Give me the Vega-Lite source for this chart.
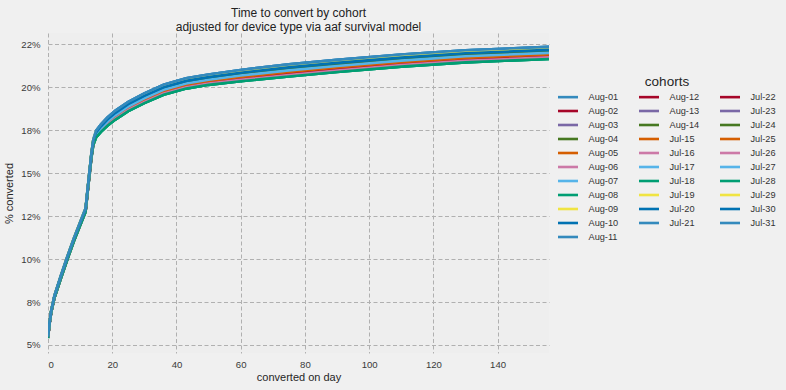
{
"$schema": "https://vega.github.io/schema/vega-lite/v6.json",
"width": 501, "height": 320,
"autosize": {"type": "none"},
"padding": {"left": 48, "top": 33, "right": 237, "bottom": 37},
"background": "#f0f0f0",
"title": {"text": ["Time to convert by cohort", "adjusted for device type via aaf survival model"], "frame": "group", "anchor": "middle", "font": "Liberation Sans", "fontSize": 12, "fontWeight": "normal", "color": "#222222", "lineHeight": 13.5, "offset": -0.5},
"data": {"values": [
{"c":"Aug-01","d":0,"v":5.498},{"c":"Aug-01","d":0.5,"v":6.352},{"c":"Aug-01","d":1,"v":7.01},{"c":"Aug-01","d":2,"v":7.868},{"c":"Aug-01","d":4,"v":9.03},{"c":"Aug-01","d":6,"v":10.138},{"c":"Aug-01","d":8,"v":11.192},{"c":"Aug-01","d":10,"v":12.15},{"c":"Aug-01","d":11.7,"v":12.958},{"c":"Aug-01","d":12.6,"v":14.57},{"c":"Aug-01","d":13.5,"v":16.14},{"c":"Aug-01","d":14.1,"v":16.96},{"c":"Aug-01","d":15,"v":17.472},{"c":"Aug-01","d":16.5,"v":17.84},{"c":"Aug-01","d":18.5,"v":18.24},{"c":"Aug-01","d":21,"v":18.64},{"c":"Aug-01","d":25,"v":19.152},{"c":"Aug-01","d":30,"v":19.64},{"c":"Aug-01","d":36,"v":20.142},{"c":"Aug-01","d":43,"v":20.52},{"c":"Aug-01","d":50,"v":20.74},{"c":"Aug-01","d":60,"v":21.008},{"c":"Aug-01","d":75,"v":21.332},{"c":"Aug-01","d":90,"v":21.592},{"c":"Aug-01","d":110,"v":21.902},{"c":"Aug-01","d":130,"v":22.152},{"c":"Aug-01","d":156,"v":22.352},
{"c":"Aug-02","d":0,"v":5.426},{"c":"Aug-02","d":0.5,"v":6.274},{"c":"Aug-02","d":1,"v":6.92},{"c":"Aug-02","d":2,"v":7.766},{"c":"Aug-02","d":4,"v":8.91},{"c":"Aug-02","d":6,"v":10.006},{"c":"Aug-02","d":8,"v":11.054},{"c":"Aug-02","d":10,"v":12},{"c":"Aug-02","d":11.7,"v":12.796},{"c":"Aug-02","d":12.6,"v":14.39},{"c":"Aug-02","d":13.5,"v":15.93},{"c":"Aug-02","d":14.1,"v":16.72},{"c":"Aug-02","d":15,"v":17.184},{"c":"Aug-02","d":16.5,"v":17.51},{"c":"Aug-02","d":18.5,"v":17.88},{"c":"Aug-02","d":21,"v":18.25},{"c":"Aug-02","d":25,"v":18.744},{"c":"Aug-02","d":30,"v":19.22},{"c":"Aug-02","d":36,"v":19.704},{"c":"Aug-02","d":43,"v":20.07},{"c":"Aug-02","d":50,"v":20.29},{"c":"Aug-02","d":60,"v":20.516},{"c":"Aug-02","d":75,"v":20.804},{"c":"Aug-02","d":90,"v":21.064},{"c":"Aug-02","d":110,"v":21.374},{"c":"Aug-02","d":130,"v":21.624},{"c":"Aug-02","d":156,"v":21.824},
{"c":"Aug-03","d":0,"v":5.45},{"c":"Aug-03","d":0.5,"v":6.3},{"c":"Aug-03","d":1,"v":6.95},{"c":"Aug-03","d":2,"v":7.8},{"c":"Aug-03","d":4,"v":8.95},{"c":"Aug-03","d":6,"v":10.05},{"c":"Aug-03","d":8,"v":11.1},{"c":"Aug-03","d":10,"v":12.05},{"c":"Aug-03","d":11.7,"v":12.85},{"c":"Aug-03","d":12.6,"v":14.45},{"c":"Aug-03","d":13.5,"v":16},{"c":"Aug-03","d":14.1,"v":16.8},{"c":"Aug-03","d":15,"v":17.28},{"c":"Aug-03","d":16.5,"v":17.62},{"c":"Aug-03","d":18.5,"v":18},{"c":"Aug-03","d":21,"v":18.38},{"c":"Aug-03","d":25,"v":18.88},{"c":"Aug-03","d":30,"v":19.36},{"c":"Aug-03","d":36,"v":19.85},{"c":"Aug-03","d":43,"v":20.22},{"c":"Aug-03","d":50,"v":20.44},{"c":"Aug-03","d":60,"v":20.68},{"c":"Aug-03","d":75,"v":20.98},{"c":"Aug-03","d":90,"v":21.24},{"c":"Aug-03","d":110,"v":21.55},{"c":"Aug-03","d":130,"v":21.8},{"c":"Aug-03","d":156,"v":22},
{"c":"Aug-04","d":0,"v":5.462},{"c":"Aug-04","d":0.5,"v":6.313},{"c":"Aug-04","d":1,"v":6.965},{"c":"Aug-04","d":2,"v":7.817},{"c":"Aug-04","d":4,"v":8.97},{"c":"Aug-04","d":6,"v":10.072},{"c":"Aug-04","d":8,"v":11.123},{"c":"Aug-04","d":10,"v":12.075},{"c":"Aug-04","d":11.7,"v":12.877},{"c":"Aug-04","d":12.6,"v":14.48},{"c":"Aug-04","d":13.5,"v":16.035},{"c":"Aug-04","d":14.1,"v":16.84},{"c":"Aug-04","d":15,"v":17.328},{"c":"Aug-04","d":16.5,"v":17.675},{"c":"Aug-04","d":18.5,"v":18.06},{"c":"Aug-04","d":21,"v":18.445},{"c":"Aug-04","d":25,"v":18.948},{"c":"Aug-04","d":30,"v":19.43},{"c":"Aug-04","d":36,"v":19.923},{"c":"Aug-04","d":43,"v":20.295},{"c":"Aug-04","d":50,"v":20.515},{"c":"Aug-04","d":60,"v":20.762},{"c":"Aug-04","d":75,"v":21.068},{"c":"Aug-04","d":90,"v":21.328},{"c":"Aug-04","d":110,"v":21.638},{"c":"Aug-04","d":130,"v":21.888},{"c":"Aug-04","d":156,"v":22.088},
{"c":"Aug-05","d":0,"v":5.438},{"c":"Aug-05","d":0.5,"v":6.287},{"c":"Aug-05","d":1,"v":6.935},{"c":"Aug-05","d":2,"v":7.783},{"c":"Aug-05","d":4,"v":8.93},{"c":"Aug-05","d":6,"v":10.028},{"c":"Aug-05","d":8,"v":11.077},{"c":"Aug-05","d":10,"v":12.025},{"c":"Aug-05","d":11.7,"v":12.823},{"c":"Aug-05","d":12.6,"v":14.42},{"c":"Aug-05","d":13.5,"v":15.965},{"c":"Aug-05","d":14.1,"v":16.76},{"c":"Aug-05","d":15,"v":17.232},{"c":"Aug-05","d":16.5,"v":17.565},{"c":"Aug-05","d":18.5,"v":17.94},{"c":"Aug-05","d":21,"v":18.315},{"c":"Aug-05","d":25,"v":18.812},{"c":"Aug-05","d":30,"v":19.29},{"c":"Aug-05","d":36,"v":19.777},{"c":"Aug-05","d":43,"v":20.145},{"c":"Aug-05","d":50,"v":20.365},{"c":"Aug-05","d":60,"v":20.598},{"c":"Aug-05","d":75,"v":20.892},{"c":"Aug-05","d":90,"v":21.152},{"c":"Aug-05","d":110,"v":21.462},{"c":"Aug-05","d":130,"v":21.712},{"c":"Aug-05","d":156,"v":21.912},
{"c":"Aug-06","d":0,"v":5.414},{"c":"Aug-06","d":0.5,"v":6.261},{"c":"Aug-06","d":1,"v":6.905},{"c":"Aug-06","d":2,"v":7.749},{"c":"Aug-06","d":4,"v":8.89},{"c":"Aug-06","d":6,"v":9.984},{"c":"Aug-06","d":8,"v":11.031},{"c":"Aug-06","d":10,"v":11.975},{"c":"Aug-06","d":11.7,"v":12.769},{"c":"Aug-06","d":12.6,"v":14.36},{"c":"Aug-06","d":13.5,"v":15.895},{"c":"Aug-06","d":14.1,"v":16.68},{"c":"Aug-06","d":15,"v":17.136},{"c":"Aug-06","d":16.5,"v":17.455},{"c":"Aug-06","d":18.5,"v":17.82},{"c":"Aug-06","d":21,"v":18.185},{"c":"Aug-06","d":25,"v":18.676},{"c":"Aug-06","d":30,"v":19.15},{"c":"Aug-06","d":36,"v":19.631},{"c":"Aug-06","d":43,"v":19.995},{"c":"Aug-06","d":50,"v":20.215},{"c":"Aug-06","d":60,"v":20.434},{"c":"Aug-06","d":75,"v":20.716},{"c":"Aug-06","d":90,"v":20.976},{"c":"Aug-06","d":110,"v":21.286},{"c":"Aug-06","d":130,"v":21.536},{"c":"Aug-06","d":156,"v":21.736},
{"c":"Aug-07","d":0,"v":5.45},{"c":"Aug-07","d":0.5,"v":6.3},{"c":"Aug-07","d":1,"v":6.95},{"c":"Aug-07","d":2,"v":7.8},{"c":"Aug-07","d":4,"v":8.95},{"c":"Aug-07","d":6,"v":10.05},{"c":"Aug-07","d":8,"v":11.1},{"c":"Aug-07","d":10,"v":12.05},{"c":"Aug-07","d":11.7,"v":12.85},{"c":"Aug-07","d":12.6,"v":14.45},{"c":"Aug-07","d":13.5,"v":16},{"c":"Aug-07","d":14.1,"v":16.8},{"c":"Aug-07","d":15,"v":17.28},{"c":"Aug-07","d":16.5,"v":17.62},{"c":"Aug-07","d":18.5,"v":18},{"c":"Aug-07","d":21,"v":18.38},{"c":"Aug-07","d":25,"v":18.88},{"c":"Aug-07","d":30,"v":19.36},{"c":"Aug-07","d":36,"v":19.85},{"c":"Aug-07","d":43,"v":20.22},{"c":"Aug-07","d":50,"v":20.44},{"c":"Aug-07","d":60,"v":20.68},{"c":"Aug-07","d":75,"v":20.98},{"c":"Aug-07","d":90,"v":21.24},{"c":"Aug-07","d":110,"v":21.55},{"c":"Aug-07","d":130,"v":21.8},{"c":"Aug-07","d":156,"v":22},
{"c":"Aug-08","d":0,"v":5.402},{"c":"Aug-08","d":0.5,"v":6.248},{"c":"Aug-08","d":1,"v":6.89},{"c":"Aug-08","d":2,"v":7.732},{"c":"Aug-08","d":4,"v":8.87},{"c":"Aug-08","d":6,"v":9.962},{"c":"Aug-08","d":8,"v":11.008},{"c":"Aug-08","d":10,"v":11.95},{"c":"Aug-08","d":11.7,"v":12.742},{"c":"Aug-08","d":12.6,"v":14.33},{"c":"Aug-08","d":13.5,"v":15.86},{"c":"Aug-08","d":14.1,"v":16.64},{"c":"Aug-08","d":15,"v":17.088},{"c":"Aug-08","d":16.5,"v":17.4},{"c":"Aug-08","d":18.5,"v":17.76},{"c":"Aug-08","d":21,"v":18.12},{"c":"Aug-08","d":25,"v":18.608},{"c":"Aug-08","d":30,"v":19.08},{"c":"Aug-08","d":36,"v":19.558},{"c":"Aug-08","d":43,"v":19.92},{"c":"Aug-08","d":50,"v":20.14},{"c":"Aug-08","d":60,"v":20.352},{"c":"Aug-08","d":75,"v":20.628},{"c":"Aug-08","d":90,"v":20.888},{"c":"Aug-08","d":110,"v":21.198},{"c":"Aug-08","d":130,"v":21.448},{"c":"Aug-08","d":156,"v":21.648},
{"c":"Aug-09","d":0,"v":5.486},{"c":"Aug-09","d":0.5,"v":6.339},{"c":"Aug-09","d":1,"v":6.995},{"c":"Aug-09","d":2,"v":7.851},{"c":"Aug-09","d":4,"v":9.01},{"c":"Aug-09","d":6,"v":10.116},{"c":"Aug-09","d":8,"v":11.169},{"c":"Aug-09","d":10,"v":12.125},{"c":"Aug-09","d":11.7,"v":12.931},{"c":"Aug-09","d":12.6,"v":14.54},{"c":"Aug-09","d":13.5,"v":16.105},{"c":"Aug-09","d":14.1,"v":16.92},{"c":"Aug-09","d":15,"v":17.424},{"c":"Aug-09","d":16.5,"v":17.785},{"c":"Aug-09","d":18.5,"v":18.18},{"c":"Aug-09","d":21,"v":18.575},{"c":"Aug-09","d":25,"v":19.084},{"c":"Aug-09","d":30,"v":19.57},{"c":"Aug-09","d":36,"v":20.069},{"c":"Aug-09","d":43,"v":20.445},{"c":"Aug-09","d":50,"v":20.665},{"c":"Aug-09","d":60,"v":20.926},{"c":"Aug-09","d":75,"v":21.244},{"c":"Aug-09","d":90,"v":21.504},{"c":"Aug-09","d":110,"v":21.814},{"c":"Aug-09","d":130,"v":22.064},{"c":"Aug-09","d":156,"v":22.264},
{"c":"Aug-10","d":0,"v":5.474},{"c":"Aug-10","d":0.5,"v":6.326},{"c":"Aug-10","d":1,"v":6.98},{"c":"Aug-10","d":2,"v":7.834},{"c":"Aug-10","d":4,"v":8.99},{"c":"Aug-10","d":6,"v":10.094},{"c":"Aug-10","d":8,"v":11.146},{"c":"Aug-10","d":10,"v":12.1},{"c":"Aug-10","d":11.7,"v":12.904},{"c":"Aug-10","d":12.6,"v":14.51},{"c":"Aug-10","d":13.5,"v":16.07},{"c":"Aug-10","d":14.1,"v":16.88},{"c":"Aug-10","d":15,"v":17.376},{"c":"Aug-10","d":16.5,"v":17.73},{"c":"Aug-10","d":18.5,"v":18.12},{"c":"Aug-10","d":21,"v":18.51},{"c":"Aug-10","d":25,"v":19.016},{"c":"Aug-10","d":30,"v":19.5},{"c":"Aug-10","d":36,"v":19.996},{"c":"Aug-10","d":43,"v":20.37},{"c":"Aug-10","d":50,"v":20.59},{"c":"Aug-10","d":60,"v":20.844},{"c":"Aug-10","d":75,"v":21.156},{"c":"Aug-10","d":90,"v":21.416},{"c":"Aug-10","d":110,"v":21.726},{"c":"Aug-10","d":130,"v":21.976},{"c":"Aug-10","d":156,"v":22.176},
{"c":"Aug-11","d":0,"v":5.498},{"c":"Aug-11","d":0.5,"v":6.352},{"c":"Aug-11","d":1,"v":7.01},{"c":"Aug-11","d":2,"v":7.868},{"c":"Aug-11","d":4,"v":9.03},{"c":"Aug-11","d":6,"v":10.138},{"c":"Aug-11","d":8,"v":11.192},{"c":"Aug-11","d":10,"v":12.15},{"c":"Aug-11","d":11.7,"v":12.958},{"c":"Aug-11","d":12.6,"v":14.57},{"c":"Aug-11","d":13.5,"v":16.14},{"c":"Aug-11","d":14.1,"v":16.96},{"c":"Aug-11","d":15,"v":17.472},{"c":"Aug-11","d":16.5,"v":17.84},{"c":"Aug-11","d":18.5,"v":18.24},{"c":"Aug-11","d":21,"v":18.64},{"c":"Aug-11","d":25,"v":19.152},{"c":"Aug-11","d":30,"v":19.64},{"c":"Aug-11","d":36,"v":20.142},{"c":"Aug-11","d":43,"v":20.52},{"c":"Aug-11","d":50,"v":20.74},{"c":"Aug-11","d":60,"v":21.008},{"c":"Aug-11","d":75,"v":21.332},{"c":"Aug-11","d":90,"v":21.592},{"c":"Aug-11","d":110,"v":21.902},{"c":"Aug-11","d":130,"v":22.152},{"c":"Aug-11","d":156,"v":22.352},
{"c":"Aug-12","d":0,"v":5.426},{"c":"Aug-12","d":0.5,"v":6.274},{"c":"Aug-12","d":1,"v":6.92},{"c":"Aug-12","d":2,"v":7.766},{"c":"Aug-12","d":4,"v":8.91},{"c":"Aug-12","d":6,"v":10.006},{"c":"Aug-12","d":8,"v":11.054},{"c":"Aug-12","d":10,"v":12},{"c":"Aug-12","d":11.7,"v":12.796},{"c":"Aug-12","d":12.6,"v":14.39},{"c":"Aug-12","d":13.5,"v":15.93},{"c":"Aug-12","d":14.1,"v":16.72},{"c":"Aug-12","d":15,"v":17.184},{"c":"Aug-12","d":16.5,"v":17.51},{"c":"Aug-12","d":18.5,"v":17.88},{"c":"Aug-12","d":21,"v":18.25},{"c":"Aug-12","d":25,"v":18.744},{"c":"Aug-12","d":30,"v":19.22},{"c":"Aug-12","d":36,"v":19.704},{"c":"Aug-12","d":43,"v":20.07},{"c":"Aug-12","d":50,"v":20.29},{"c":"Aug-12","d":60,"v":20.516},{"c":"Aug-12","d":75,"v":20.804},{"c":"Aug-12","d":90,"v":21.064},{"c":"Aug-12","d":110,"v":21.374},{"c":"Aug-12","d":130,"v":21.624},{"c":"Aug-12","d":156,"v":21.824},
{"c":"Aug-13","d":0,"v":5.45},{"c":"Aug-13","d":0.5,"v":6.3},{"c":"Aug-13","d":1,"v":6.95},{"c":"Aug-13","d":2,"v":7.8},{"c":"Aug-13","d":4,"v":8.95},{"c":"Aug-13","d":6,"v":10.05},{"c":"Aug-13","d":8,"v":11.1},{"c":"Aug-13","d":10,"v":12.05},{"c":"Aug-13","d":11.7,"v":12.85},{"c":"Aug-13","d":12.6,"v":14.45},{"c":"Aug-13","d":13.5,"v":16},{"c":"Aug-13","d":14.1,"v":16.8},{"c":"Aug-13","d":15,"v":17.28},{"c":"Aug-13","d":16.5,"v":17.62},{"c":"Aug-13","d":18.5,"v":18},{"c":"Aug-13","d":21,"v":18.38},{"c":"Aug-13","d":25,"v":18.88},{"c":"Aug-13","d":30,"v":19.36},{"c":"Aug-13","d":36,"v":19.85},{"c":"Aug-13","d":43,"v":20.22},{"c":"Aug-13","d":50,"v":20.44},{"c":"Aug-13","d":60,"v":20.68},{"c":"Aug-13","d":75,"v":20.98},{"c":"Aug-13","d":90,"v":21.24},{"c":"Aug-13","d":110,"v":21.55},{"c":"Aug-13","d":130,"v":21.8},{"c":"Aug-13","d":156,"v":22},
{"c":"Aug-14","d":0,"v":5.462},{"c":"Aug-14","d":0.5,"v":6.313},{"c":"Aug-14","d":1,"v":6.965},{"c":"Aug-14","d":2,"v":7.817},{"c":"Aug-14","d":4,"v":8.97},{"c":"Aug-14","d":6,"v":10.072},{"c":"Aug-14","d":8,"v":11.123},{"c":"Aug-14","d":10,"v":12.075},{"c":"Aug-14","d":11.7,"v":12.877},{"c":"Aug-14","d":12.6,"v":14.48},{"c":"Aug-14","d":13.5,"v":16.035},{"c":"Aug-14","d":14.1,"v":16.84},{"c":"Aug-14","d":15,"v":17.328},{"c":"Aug-14","d":16.5,"v":17.675},{"c":"Aug-14","d":18.5,"v":18.06},{"c":"Aug-14","d":21,"v":18.445},{"c":"Aug-14","d":25,"v":18.948},{"c":"Aug-14","d":30,"v":19.43},{"c":"Aug-14","d":36,"v":19.923},{"c":"Aug-14","d":43,"v":20.295},{"c":"Aug-14","d":50,"v":20.515},{"c":"Aug-14","d":60,"v":20.762},{"c":"Aug-14","d":75,"v":21.068},{"c":"Aug-14","d":90,"v":21.328},{"c":"Aug-14","d":110,"v":21.638},{"c":"Aug-14","d":130,"v":21.888},{"c":"Aug-14","d":156,"v":22.088},
{"c":"Jul-15","d":0,"v":5.438},{"c":"Jul-15","d":0.5,"v":6.287},{"c":"Jul-15","d":1,"v":6.935},{"c":"Jul-15","d":2,"v":7.783},{"c":"Jul-15","d":4,"v":8.93},{"c":"Jul-15","d":6,"v":10.028},{"c":"Jul-15","d":8,"v":11.077},{"c":"Jul-15","d":10,"v":12.025},{"c":"Jul-15","d":11.7,"v":12.823},{"c":"Jul-15","d":12.6,"v":14.42},{"c":"Jul-15","d":13.5,"v":15.965},{"c":"Jul-15","d":14.1,"v":16.76},{"c":"Jul-15","d":15,"v":17.232},{"c":"Jul-15","d":16.5,"v":17.565},{"c":"Jul-15","d":18.5,"v":17.94},{"c":"Jul-15","d":21,"v":18.315},{"c":"Jul-15","d":25,"v":18.812},{"c":"Jul-15","d":30,"v":19.29},{"c":"Jul-15","d":36,"v":19.777},{"c":"Jul-15","d":43,"v":20.145},{"c":"Jul-15","d":50,"v":20.365},{"c":"Jul-15","d":60,"v":20.598},{"c":"Jul-15","d":75,"v":20.892},{"c":"Jul-15","d":90,"v":21.152},{"c":"Jul-15","d":110,"v":21.462},{"c":"Jul-15","d":130,"v":21.712},{"c":"Jul-15","d":156,"v":21.912},
{"c":"Jul-16","d":0,"v":5.414},{"c":"Jul-16","d":0.5,"v":6.261},{"c":"Jul-16","d":1,"v":6.905},{"c":"Jul-16","d":2,"v":7.749},{"c":"Jul-16","d":4,"v":8.89},{"c":"Jul-16","d":6,"v":9.984},{"c":"Jul-16","d":8,"v":11.031},{"c":"Jul-16","d":10,"v":11.975},{"c":"Jul-16","d":11.7,"v":12.769},{"c":"Jul-16","d":12.6,"v":14.36},{"c":"Jul-16","d":13.5,"v":15.895},{"c":"Jul-16","d":14.1,"v":16.68},{"c":"Jul-16","d":15,"v":17.136},{"c":"Jul-16","d":16.5,"v":17.455},{"c":"Jul-16","d":18.5,"v":17.82},{"c":"Jul-16","d":21,"v":18.185},{"c":"Jul-16","d":25,"v":18.676},{"c":"Jul-16","d":30,"v":19.15},{"c":"Jul-16","d":36,"v":19.631},{"c":"Jul-16","d":43,"v":19.995},{"c":"Jul-16","d":50,"v":20.215},{"c":"Jul-16","d":60,"v":20.434},{"c":"Jul-16","d":75,"v":20.716},{"c":"Jul-16","d":90,"v":20.976},{"c":"Jul-16","d":110,"v":21.286},{"c":"Jul-16","d":130,"v":21.536},{"c":"Jul-16","d":156,"v":21.736},
{"c":"Jul-17","d":0,"v":5.45},{"c":"Jul-17","d":0.5,"v":6.3},{"c":"Jul-17","d":1,"v":6.95},{"c":"Jul-17","d":2,"v":7.8},{"c":"Jul-17","d":4,"v":8.95},{"c":"Jul-17","d":6,"v":10.05},{"c":"Jul-17","d":8,"v":11.1},{"c":"Jul-17","d":10,"v":12.05},{"c":"Jul-17","d":11.7,"v":12.85},{"c":"Jul-17","d":12.6,"v":14.45},{"c":"Jul-17","d":13.5,"v":16},{"c":"Jul-17","d":14.1,"v":16.8},{"c":"Jul-17","d":15,"v":17.28},{"c":"Jul-17","d":16.5,"v":17.62},{"c":"Jul-17","d":18.5,"v":18},{"c":"Jul-17","d":21,"v":18.38},{"c":"Jul-17","d":25,"v":18.88},{"c":"Jul-17","d":30,"v":19.36},{"c":"Jul-17","d":36,"v":19.85},{"c":"Jul-17","d":43,"v":20.22},{"c":"Jul-17","d":50,"v":20.44},{"c":"Jul-17","d":60,"v":20.68},{"c":"Jul-17","d":75,"v":20.98},{"c":"Jul-17","d":90,"v":21.24},{"c":"Jul-17","d":110,"v":21.55},{"c":"Jul-17","d":130,"v":21.8},{"c":"Jul-17","d":156,"v":22},
{"c":"Jul-18","d":0,"v":5.402},{"c":"Jul-18","d":0.5,"v":6.248},{"c":"Jul-18","d":1,"v":6.89},{"c":"Jul-18","d":2,"v":7.732},{"c":"Jul-18","d":4,"v":8.87},{"c":"Jul-18","d":6,"v":9.962},{"c":"Jul-18","d":8,"v":11.008},{"c":"Jul-18","d":10,"v":11.95},{"c":"Jul-18","d":11.7,"v":12.742},{"c":"Jul-18","d":12.6,"v":14.33},{"c":"Jul-18","d":13.5,"v":15.86},{"c":"Jul-18","d":14.1,"v":16.64},{"c":"Jul-18","d":15,"v":17.088},{"c":"Jul-18","d":16.5,"v":17.4},{"c":"Jul-18","d":18.5,"v":17.76},{"c":"Jul-18","d":21,"v":18.12},{"c":"Jul-18","d":25,"v":18.608},{"c":"Jul-18","d":30,"v":19.08},{"c":"Jul-18","d":36,"v":19.558},{"c":"Jul-18","d":43,"v":19.92},{"c":"Jul-18","d":50,"v":20.14},{"c":"Jul-18","d":60,"v":20.352},{"c":"Jul-18","d":75,"v":20.628},{"c":"Jul-18","d":90,"v":20.888},{"c":"Jul-18","d":110,"v":21.198},{"c":"Jul-18","d":130,"v":21.448},{"c":"Jul-18","d":156,"v":21.648},
{"c":"Jul-19","d":0,"v":5.486},{"c":"Jul-19","d":0.5,"v":6.339},{"c":"Jul-19","d":1,"v":6.995},{"c":"Jul-19","d":2,"v":7.851},{"c":"Jul-19","d":4,"v":9.01},{"c":"Jul-19","d":6,"v":10.116},{"c":"Jul-19","d":8,"v":11.169},{"c":"Jul-19","d":10,"v":12.125},{"c":"Jul-19","d":11.7,"v":12.931},{"c":"Jul-19","d":12.6,"v":14.54},{"c":"Jul-19","d":13.5,"v":16.105},{"c":"Jul-19","d":14.1,"v":16.92},{"c":"Jul-19","d":15,"v":17.424},{"c":"Jul-19","d":16.5,"v":17.785},{"c":"Jul-19","d":18.5,"v":18.18},{"c":"Jul-19","d":21,"v":18.575},{"c":"Jul-19","d":25,"v":19.084},{"c":"Jul-19","d":30,"v":19.57},{"c":"Jul-19","d":36,"v":20.069},{"c":"Jul-19","d":43,"v":20.445},{"c":"Jul-19","d":50,"v":20.665},{"c":"Jul-19","d":60,"v":20.926},{"c":"Jul-19","d":75,"v":21.244},{"c":"Jul-19","d":90,"v":21.504},{"c":"Jul-19","d":110,"v":21.814},{"c":"Jul-19","d":130,"v":22.064},{"c":"Jul-19","d":156,"v":22.264},
{"c":"Jul-20","d":0,"v":5.474},{"c":"Jul-20","d":0.5,"v":6.326},{"c":"Jul-20","d":1,"v":6.98},{"c":"Jul-20","d":2,"v":7.834},{"c":"Jul-20","d":4,"v":8.99},{"c":"Jul-20","d":6,"v":10.094},{"c":"Jul-20","d":8,"v":11.146},{"c":"Jul-20","d":10,"v":12.1},{"c":"Jul-20","d":11.7,"v":12.904},{"c":"Jul-20","d":12.6,"v":14.51},{"c":"Jul-20","d":13.5,"v":16.07},{"c":"Jul-20","d":14.1,"v":16.88},{"c":"Jul-20","d":15,"v":17.376},{"c":"Jul-20","d":16.5,"v":17.73},{"c":"Jul-20","d":18.5,"v":18.12},{"c":"Jul-20","d":21,"v":18.51},{"c":"Jul-20","d":25,"v":19.016},{"c":"Jul-20","d":30,"v":19.5},{"c":"Jul-20","d":36,"v":19.996},{"c":"Jul-20","d":43,"v":20.37},{"c":"Jul-20","d":50,"v":20.59},{"c":"Jul-20","d":60,"v":20.844},{"c":"Jul-20","d":75,"v":21.156},{"c":"Jul-20","d":90,"v":21.416},{"c":"Jul-20","d":110,"v":21.726},{"c":"Jul-20","d":130,"v":21.976},{"c":"Jul-20","d":156,"v":22.176},
{"c":"Jul-21","d":0,"v":5.462},{"c":"Jul-21","d":0.5,"v":6.313},{"c":"Jul-21","d":1,"v":6.965},{"c":"Jul-21","d":2,"v":7.817},{"c":"Jul-21","d":4,"v":8.97},{"c":"Jul-21","d":6,"v":10.072},{"c":"Jul-21","d":8,"v":11.123},{"c":"Jul-21","d":10,"v":12.075},{"c":"Jul-21","d":11.7,"v":12.877},{"c":"Jul-21","d":12.6,"v":14.48},{"c":"Jul-21","d":13.5,"v":16.035},{"c":"Jul-21","d":14.1,"v":16.84},{"c":"Jul-21","d":15,"v":17.328},{"c":"Jul-21","d":16.5,"v":17.675},{"c":"Jul-21","d":18.5,"v":18.06},{"c":"Jul-21","d":21,"v":18.445},{"c":"Jul-21","d":25,"v":18.948},{"c":"Jul-21","d":30,"v":19.43},{"c":"Jul-21","d":36,"v":19.923},{"c":"Jul-21","d":43,"v":20.295},{"c":"Jul-21","d":50,"v":20.515},{"c":"Jul-21","d":60,"v":20.762},{"c":"Jul-21","d":75,"v":21.068},{"c":"Jul-21","d":90,"v":21.328},{"c":"Jul-21","d":110,"v":21.638},{"c":"Jul-21","d":130,"v":21.888},{"c":"Jul-21","d":156,"v":22.088},
{"c":"Jul-22","d":0,"v":5.426},{"c":"Jul-22","d":0.5,"v":6.274},{"c":"Jul-22","d":1,"v":6.92},{"c":"Jul-22","d":2,"v":7.766},{"c":"Jul-22","d":4,"v":8.91},{"c":"Jul-22","d":6,"v":10.006},{"c":"Jul-22","d":8,"v":11.054},{"c":"Jul-22","d":10,"v":12},{"c":"Jul-22","d":11.7,"v":12.796},{"c":"Jul-22","d":12.6,"v":14.39},{"c":"Jul-22","d":13.5,"v":15.93},{"c":"Jul-22","d":14.1,"v":16.72},{"c":"Jul-22","d":15,"v":17.184},{"c":"Jul-22","d":16.5,"v":17.51},{"c":"Jul-22","d":18.5,"v":17.88},{"c":"Jul-22","d":21,"v":18.25},{"c":"Jul-22","d":25,"v":18.744},{"c":"Jul-22","d":30,"v":19.22},{"c":"Jul-22","d":36,"v":19.704},{"c":"Jul-22","d":43,"v":20.07},{"c":"Jul-22","d":50,"v":20.29},{"c":"Jul-22","d":60,"v":20.516},{"c":"Jul-22","d":75,"v":20.804},{"c":"Jul-22","d":90,"v":21.064},{"c":"Jul-22","d":110,"v":21.374},{"c":"Jul-22","d":130,"v":21.624},{"c":"Jul-22","d":156,"v":21.824},
{"c":"Jul-23","d":0,"v":5.45},{"c":"Jul-23","d":0.5,"v":6.3},{"c":"Jul-23","d":1,"v":6.95},{"c":"Jul-23","d":2,"v":7.8},{"c":"Jul-23","d":4,"v":8.95},{"c":"Jul-23","d":6,"v":10.05},{"c":"Jul-23","d":8,"v":11.1},{"c":"Jul-23","d":10,"v":12.05},{"c":"Jul-23","d":11.7,"v":12.85},{"c":"Jul-23","d":12.6,"v":14.45},{"c":"Jul-23","d":13.5,"v":16},{"c":"Jul-23","d":14.1,"v":16.8},{"c":"Jul-23","d":15,"v":17.28},{"c":"Jul-23","d":16.5,"v":17.62},{"c":"Jul-23","d":18.5,"v":18},{"c":"Jul-23","d":21,"v":18.38},{"c":"Jul-23","d":25,"v":18.88},{"c":"Jul-23","d":30,"v":19.36},{"c":"Jul-23","d":36,"v":19.85},{"c":"Jul-23","d":43,"v":20.22},{"c":"Jul-23","d":50,"v":20.44},{"c":"Jul-23","d":60,"v":20.68},{"c":"Jul-23","d":75,"v":20.98},{"c":"Jul-23","d":90,"v":21.24},{"c":"Jul-23","d":110,"v":21.55},{"c":"Jul-23","d":130,"v":21.8},{"c":"Jul-23","d":156,"v":22},
{"c":"Jul-24","d":0,"v":5.462},{"c":"Jul-24","d":0.5,"v":6.313},{"c":"Jul-24","d":1,"v":6.965},{"c":"Jul-24","d":2,"v":7.817},{"c":"Jul-24","d":4,"v":8.97},{"c":"Jul-24","d":6,"v":10.072},{"c":"Jul-24","d":8,"v":11.123},{"c":"Jul-24","d":10,"v":12.075},{"c":"Jul-24","d":11.7,"v":12.877},{"c":"Jul-24","d":12.6,"v":14.48},{"c":"Jul-24","d":13.5,"v":16.035},{"c":"Jul-24","d":14.1,"v":16.84},{"c":"Jul-24","d":15,"v":17.328},{"c":"Jul-24","d":16.5,"v":17.675},{"c":"Jul-24","d":18.5,"v":18.06},{"c":"Jul-24","d":21,"v":18.445},{"c":"Jul-24","d":25,"v":18.948},{"c":"Jul-24","d":30,"v":19.43},{"c":"Jul-24","d":36,"v":19.923},{"c":"Jul-24","d":43,"v":20.295},{"c":"Jul-24","d":50,"v":20.515},{"c":"Jul-24","d":60,"v":20.762},{"c":"Jul-24","d":75,"v":21.068},{"c":"Jul-24","d":90,"v":21.328},{"c":"Jul-24","d":110,"v":21.638},{"c":"Jul-24","d":130,"v":21.888},{"c":"Jul-24","d":156,"v":22.088},
{"c":"Jul-25","d":0,"v":5.438},{"c":"Jul-25","d":0.5,"v":6.287},{"c":"Jul-25","d":1,"v":6.935},{"c":"Jul-25","d":2,"v":7.783},{"c":"Jul-25","d":4,"v":8.93},{"c":"Jul-25","d":6,"v":10.028},{"c":"Jul-25","d":8,"v":11.077},{"c":"Jul-25","d":10,"v":12.025},{"c":"Jul-25","d":11.7,"v":12.823},{"c":"Jul-25","d":12.6,"v":14.42},{"c":"Jul-25","d":13.5,"v":15.965},{"c":"Jul-25","d":14.1,"v":16.76},{"c":"Jul-25","d":15,"v":17.232},{"c":"Jul-25","d":16.5,"v":17.565},{"c":"Jul-25","d":18.5,"v":17.94},{"c":"Jul-25","d":21,"v":18.315},{"c":"Jul-25","d":25,"v":18.812},{"c":"Jul-25","d":30,"v":19.29},{"c":"Jul-25","d":36,"v":19.777},{"c":"Jul-25","d":43,"v":20.145},{"c":"Jul-25","d":50,"v":20.365},{"c":"Jul-25","d":60,"v":20.598},{"c":"Jul-25","d":75,"v":20.892},{"c":"Jul-25","d":90,"v":21.152},{"c":"Jul-25","d":110,"v":21.462},{"c":"Jul-25","d":130,"v":21.712},{"c":"Jul-25","d":156,"v":21.912},
{"c":"Jul-26","d":0,"v":5.414},{"c":"Jul-26","d":0.5,"v":6.261},{"c":"Jul-26","d":1,"v":6.905},{"c":"Jul-26","d":2,"v":7.749},{"c":"Jul-26","d":4,"v":8.89},{"c":"Jul-26","d":6,"v":9.984},{"c":"Jul-26","d":8,"v":11.031},{"c":"Jul-26","d":10,"v":11.975},{"c":"Jul-26","d":11.7,"v":12.769},{"c":"Jul-26","d":12.6,"v":14.36},{"c":"Jul-26","d":13.5,"v":15.895},{"c":"Jul-26","d":14.1,"v":16.68},{"c":"Jul-26","d":15,"v":17.136},{"c":"Jul-26","d":16.5,"v":17.455},{"c":"Jul-26","d":18.5,"v":17.82},{"c":"Jul-26","d":21,"v":18.185},{"c":"Jul-26","d":25,"v":18.676},{"c":"Jul-26","d":30,"v":19.15},{"c":"Jul-26","d":36,"v":19.631},{"c":"Jul-26","d":43,"v":19.995},{"c":"Jul-26","d":50,"v":20.215},{"c":"Jul-26","d":60,"v":20.434},{"c":"Jul-26","d":75,"v":20.716},{"c":"Jul-26","d":90,"v":20.976},{"c":"Jul-26","d":110,"v":21.286},{"c":"Jul-26","d":130,"v":21.536},{"c":"Jul-26","d":156,"v":21.736},
{"c":"Jul-27","d":0,"v":5.45},{"c":"Jul-27","d":0.5,"v":6.3},{"c":"Jul-27","d":1,"v":6.95},{"c":"Jul-27","d":2,"v":7.8},{"c":"Jul-27","d":4,"v":8.95},{"c":"Jul-27","d":6,"v":10.05},{"c":"Jul-27","d":8,"v":11.1},{"c":"Jul-27","d":10,"v":12.05},{"c":"Jul-27","d":11.7,"v":12.85},{"c":"Jul-27","d":12.6,"v":14.45},{"c":"Jul-27","d":13.5,"v":16},{"c":"Jul-27","d":14.1,"v":16.8},{"c":"Jul-27","d":15,"v":17.28},{"c":"Jul-27","d":16.5,"v":17.62},{"c":"Jul-27","d":18.5,"v":18},{"c":"Jul-27","d":21,"v":18.38},{"c":"Jul-27","d":25,"v":18.88},{"c":"Jul-27","d":30,"v":19.36},{"c":"Jul-27","d":36,"v":19.85},{"c":"Jul-27","d":43,"v":20.22},{"c":"Jul-27","d":50,"v":20.44},{"c":"Jul-27","d":60,"v":20.68},{"c":"Jul-27","d":75,"v":20.98},{"c":"Jul-27","d":90,"v":21.24},{"c":"Jul-27","d":110,"v":21.55},{"c":"Jul-27","d":130,"v":21.8},{"c":"Jul-27","d":156,"v":22},
{"c":"Jul-28","d":0,"v":5.402},{"c":"Jul-28","d":0.5,"v":6.248},{"c":"Jul-28","d":1,"v":6.89},{"c":"Jul-28","d":2,"v":7.732},{"c":"Jul-28","d":4,"v":8.87},{"c":"Jul-28","d":6,"v":9.962},{"c":"Jul-28","d":8,"v":11.008},{"c":"Jul-28","d":10,"v":11.95},{"c":"Jul-28","d":11.7,"v":12.742},{"c":"Jul-28","d":12.6,"v":14.33},{"c":"Jul-28","d":13.5,"v":15.86},{"c":"Jul-28","d":14.1,"v":16.64},{"c":"Jul-28","d":15,"v":17.088},{"c":"Jul-28","d":16.5,"v":17.4},{"c":"Jul-28","d":18.5,"v":17.76},{"c":"Jul-28","d":21,"v":18.12},{"c":"Jul-28","d":25,"v":18.608},{"c":"Jul-28","d":30,"v":19.08},{"c":"Jul-28","d":36,"v":19.558},{"c":"Jul-28","d":43,"v":19.92},{"c":"Jul-28","d":50,"v":20.14},{"c":"Jul-28","d":60,"v":20.352},{"c":"Jul-28","d":75,"v":20.628},{"c":"Jul-28","d":90,"v":20.888},{"c":"Jul-28","d":110,"v":21.198},{"c":"Jul-28","d":130,"v":21.448},{"c":"Jul-28","d":156,"v":21.648},
{"c":"Jul-29","d":0,"v":5.486},{"c":"Jul-29","d":0.5,"v":6.339},{"c":"Jul-29","d":1,"v":6.995},{"c":"Jul-29","d":2,"v":7.851},{"c":"Jul-29","d":4,"v":9.01},{"c":"Jul-29","d":6,"v":10.116},{"c":"Jul-29","d":8,"v":11.169},{"c":"Jul-29","d":10,"v":12.125},{"c":"Jul-29","d":11.7,"v":12.931},{"c":"Jul-29","d":12.6,"v":14.54},{"c":"Jul-29","d":13.5,"v":16.105},{"c":"Jul-29","d":14.1,"v":16.92},{"c":"Jul-29","d":15,"v":17.424},{"c":"Jul-29","d":16.5,"v":17.785},{"c":"Jul-29","d":18.5,"v":18.18},{"c":"Jul-29","d":21,"v":18.575},{"c":"Jul-29","d":25,"v":19.084},{"c":"Jul-29","d":30,"v":19.57},{"c":"Jul-29","d":36,"v":20.069},{"c":"Jul-29","d":43,"v":20.445},{"c":"Jul-29","d":50,"v":20.665},{"c":"Jul-29","d":60,"v":20.926},{"c":"Jul-29","d":75,"v":21.244},{"c":"Jul-29","d":90,"v":21.504},{"c":"Jul-29","d":110,"v":21.814},{"c":"Jul-29","d":130,"v":22.064},{"c":"Jul-29","d":156,"v":22.264},
{"c":"Jul-30","d":0,"v":5.474},{"c":"Jul-30","d":0.5,"v":6.326},{"c":"Jul-30","d":1,"v":6.98},{"c":"Jul-30","d":2,"v":7.834},{"c":"Jul-30","d":4,"v":8.99},{"c":"Jul-30","d":6,"v":10.094},{"c":"Jul-30","d":8,"v":11.146},{"c":"Jul-30","d":10,"v":12.1},{"c":"Jul-30","d":11.7,"v":12.904},{"c":"Jul-30","d":12.6,"v":14.51},{"c":"Jul-30","d":13.5,"v":16.07},{"c":"Jul-30","d":14.1,"v":16.88},{"c":"Jul-30","d":15,"v":17.376},{"c":"Jul-30","d":16.5,"v":17.73},{"c":"Jul-30","d":18.5,"v":18.12},{"c":"Jul-30","d":21,"v":18.51},{"c":"Jul-30","d":25,"v":19.016},{"c":"Jul-30","d":30,"v":19.5},{"c":"Jul-30","d":36,"v":19.996},{"c":"Jul-30","d":43,"v":20.37},{"c":"Jul-30","d":50,"v":20.59},{"c":"Jul-30","d":60,"v":20.844},{"c":"Jul-30","d":75,"v":21.156},{"c":"Jul-30","d":90,"v":21.416},{"c":"Jul-30","d":110,"v":21.726},{"c":"Jul-30","d":130,"v":21.976},{"c":"Jul-30","d":156,"v":22.176},
{"c":"Jul-31","d":0,"v":5.498},{"c":"Jul-31","d":0.5,"v":6.352},{"c":"Jul-31","d":1,"v":7.01},{"c":"Jul-31","d":2,"v":7.868},{"c":"Jul-31","d":4,"v":9.03},{"c":"Jul-31","d":6,"v":10.138},{"c":"Jul-31","d":8,"v":11.192},{"c":"Jul-31","d":10,"v":12.15},{"c":"Jul-31","d":11.7,"v":12.958},{"c":"Jul-31","d":12.6,"v":14.57},{"c":"Jul-31","d":13.5,"v":16.14},{"c":"Jul-31","d":14.1,"v":16.96},{"c":"Jul-31","d":15,"v":17.472},{"c":"Jul-31","d":16.5,"v":17.84},{"c":"Jul-31","d":18.5,"v":18.24},{"c":"Jul-31","d":21,"v":18.64},{"c":"Jul-31","d":25,"v":19.152},{"c":"Jul-31","d":30,"v":19.64},{"c":"Jul-31","d":36,"v":20.142},{"c":"Jul-31","d":43,"v":20.52},{"c":"Jul-31","d":50,"v":20.74},{"c":"Jul-31","d":60,"v":21.008},{"c":"Jul-31","d":75,"v":21.332},{"c":"Jul-31","d":90,"v":21.592},{"c":"Jul-31","d":110,"v":21.902},{"c":"Jul-31","d":130,"v":22.152},{"c":"Jul-31","d":156,"v":22.352}
]},
"mark": {"type": "line", "strokeWidth": 2.6, "clip": true},
"encoding": {
"x": {"field": "d", "type": "quantitative", "scale": {"domain": [0, 156], "nice": false, "zero": false}, "axis": {"title": "converted on day", "values": [0, 20, 40, 60, 80, 100, 120, 140], "labelPadding": 6, "titlePadding": 3}},
"y": {"field": "v", "type": "quantitative", "scale": {"domain": [4.534, 23.157], "nice": false, "zero": false}, "axis": {"title": "% converted", "values": [5, 7.5, 10, 12.5, 15, 17.5, 20, 22.5], "labelExpr": "datum.value == 7.5 ? '8%' : datum.value == 12.5 ? '12%' : datum.value == 17.5 ? '18%' : datum.value == 22.5 ? '22%' : datum.value + '%'", "labelPadding": 8, "titlePadding": 6}},
"color": {"field": "c", "type": "nominal", "title": "cohorts",
"scale": {"domain": ["Aug-01","Aug-02","Aug-03","Aug-04","Aug-05","Aug-06","Aug-07","Aug-08","Aug-09","Aug-10","Aug-11","Aug-12","Aug-13","Aug-14","Jul-15","Jul-16","Jul-17","Jul-18","Jul-19","Jul-20","Jul-21","zz1","Jul-22","Jul-23","Jul-24","Jul-25","Jul-26","Jul-27","Jul-28","Jul-29","Jul-30","Jul-31","zz2"],
"range": ["#348ABD","#A60628","#7A68A6","#467821","#D55E00","#CC79A7","#56B4E9","#009E73","#F0E442","#0072B2","#348ABD","#A60628","#7A68A6","#467821","#D55E00","#CC79A7","#56B4E9","#009E73","#F0E442","#0072B2","#348ABD","rgba(0,0,0,0)","#A60628","#7A68A6","#467821","#D55E00","#CC79A7","#56B4E9","#009E73","#F0E442","#0072B2","#348ABD","rgba(0,0,0,0)"]},
"legend": {"orient": "none", "legendX": 510, "legendY": 42, "columns": 3, "symbolLimit": 0, "gridAlign": "all", "columnPadding": 14, "rowPadding": 0, "symbolType": "M-1.39,0H1.39", "symbolSize": 207, "symbolOffset": 1.5, "symbolStrokeWidth": 2.6, "labelOffset": 12, "labelExpr": "datum.label == 'zz1' || datum.label == 'zz2' ? '' : datum.label", "titleAnchor": "middle", "titlePadding": 0, "padding": 0}}
},
"config": {
"view": {"stroke": null, "fill": "#eeeeee"},
"axis": {"domain": false, "ticks": false, "tickSize": 0, "grid": true, "gridColor": "#b0b0b0", "gridDash": [4, 2.5], "gridWidth": 1, "labelFont": "Liberation Sans", "labelFontSize": 9.6, "labelColor": "#3a3a3a", "titleFont": "Liberation Sans", "titleFontSize": 11, "titleFontWeight": "normal", "titleColor": "#262626"},
"legend": {"labelFont": "Liberation Sans", "labelFontSize": 9.2, "labelColor": "#333333", "titleFont": "Liberation Sans", "titleFontSize": 13.5, "titleFontWeight": "normal", "titleColor": "#262626"}
}
}
